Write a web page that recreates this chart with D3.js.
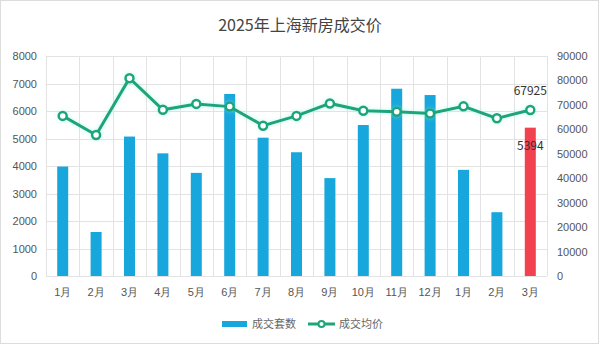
<!DOCTYPE html>
<html><head><meta charset="utf-8">
<script src="https://cdn.jsdelivr.net/npm/d3@7"></script>
<style>
html,body{margin:0;padding:0;background:#fff;}
svg{display:block;font-family:"Noto Sans CJK SC","Microsoft YaHei",sans-serif;}
</style></head>
<body><svg id="c" width="600" height="345"></svg>
<script>
const months = ["1月","2月","3月","4月","5月","6月","7月","8月","9月","10月","11月","12月","1月","2月","3月"];
const units = [3980,1600,5070,4460,3750,6620,5030,4500,3560,5490,6810,6580,3860,2320,5394];
const prices = [65500,57700,80900,68000,70400,69300,61500,65500,70600,67600,67200,66500,69400,64500,67925];
const leftTicks = [0,1000,2000,3000,4000,5000,6000,7000,8000];
const rightTicks = [0,10000,20000,30000,40000,50000,60000,70000,80000,90000];
const title = "2025年上海新房成交价";
const legendNames = ["成交套数","成交均价"];

const svg = d3.select("#c");
const W=600,H=345;
const m={l:46,r:53,t:56,b:69};
const x = d3.scaleBand().domain(d3.range(months.length)).range([m.l,W-m.r]);
const yL = d3.scaleLinear().domain([0,8000]).range([H-m.b,m.t]);
const yR = d3.scaleLinear().domain([0,90000]).range([H-m.b,m.t]);

// border
svg.append("rect").attr("x",0.5).attr("y",0.5).attr("width",W-2).attr("height",H-2)
  .attr("fill","none").attr("stroke","#dcdcdc");

const defs = svg.append("defs");
const f = defs.append("filter").attr("id","glow").attr("x","-10%").attr("y","-20%").attr("width","120%").attr("height","140%");
f.append("feGaussianBlur").attr("in","SourceGraphic").attr("stdDeviation",2).attr("result","b");
f.append("feColorMatrix").attr("in","b").attr("type","matrix")
  .attr("values","0 0 0 0 0.2  0 0 0 0 0.9  0 0 0 0 0.7  0 0 0 0.5 0").attr("result","g");
const fm=f.append("feMerge"); fm.append("feMergeNode").attr("in","g"); fm.append("feMergeNode").attr("in","SourceGraphic");

// grid
const g = svg.append("g");
g.selectAll("line.h").data(leftTicks).join("line")
  .attr("x1",m.l).attr("x2",W-m.r).attr("y1",d=>Math.round(yL(d))+0.5).attr("y2",d=>Math.round(yL(d))+0.5)
  .attr("stroke","#e3e3e3");
const vb = d3.range(months.length+1).map(i=> i<months.length ? x(i) : x(months.length-1)+x.bandwidth());
g.selectAll("line.v").data(vb).join("line")
  .attr("x1",d=>Math.round(d)+0.5).attr("x2",d=>Math.round(d)+0.5).attr("y1",m.t).attr("y2",H-m.b)
  .attr("stroke","#e3e3e3");

// axes labels
const axL = svg.append("g").attr("transform",`translate(${m.l-9},0)`)
  .call(d3.axisLeft(yL).tickValues(leftTicks).tickSize(0).tickPadding(0).tickFormat(d3.format("d")));
const axR = svg.append("g").attr("transform",`translate(${W-m.r+10},0)`)
  .call(d3.axisRight(yR).tickValues(rightTicks).tickSize(0).tickPadding(0).tickFormat(d3.format("d")));
const axB = svg.append("g").attr("transform",`translate(0,${H-m.b+10})`)
  .call(d3.axisBottom(x).tickSize(0).tickPadding(0).tickFormat(i=>months[i]));
[axL,axR,axB].forEach(a=>{a.select(".domain").remove();a.selectAll("text").attr("fill","#555").style("font-size","11px");});
axB.selectAll("text").attr("dy","0.9em");

// bars
const bw = 11;
svg.append("g").selectAll("rect").data(units).join("rect")
  .attr("x",(d,i)=>x(i)+x.bandwidth()/2-bw/2).attr("width",bw)
  .attr("y",d=>yL(d)).attr("height",d=>yL(0)-yL(d))
  .attr("fill",(d,i)=> i===units.length-1 ? "#f2414f" : "#17a7dc");

// line
const lc="#1fa57a";
const line = d3.line().x((d,i)=>x(i)+x.bandwidth()/2).y(d=>yR(d));
const lg = svg.append("g").attr("filter","url(#glow)");
lg.append("path").datum(prices).attr("d",line).attr("fill","none").attr("stroke",lc).attr("stroke-width",3);
lg.selectAll("circle").data(prices).join("circle")
  .attr("cx",(d,i)=>x(i)+x.bandwidth()/2).attr("cy",d=>yR(d)).attr("r",4)
  .attr("fill","#fff").attr("stroke",lc).attr("stroke-width",2.5);

// value labels
const li = prices.length-1;
svg.append("text").attr("x",x(li)+x.bandwidth()/2).attr("y",yR(prices[li])-15)
  .attr("text-anchor","middle").attr("fill","#333").style("font-size","12px").text(prices[li]);
svg.append("text").attr("x",x(li)+x.bandwidth()/2).attr("y",yL(units[li])+22)
  .attr("text-anchor","middle").attr("fill","#333").style("font-size","12px").text(units[li]);

// title
svg.append("text").attr("x",W/2).attr("y",31).attr("text-anchor","middle")
  .attr("fill","#444").style("font-size","16px").text(title);

// legend
const ly=324;
svg.append("rect").attr("x",222).attr("y",ly-3).attr("width",25).attr("height",6).attr("fill","#17a7dc");
svg.append("text").attr("x",252).attr("y",ly+4).attr("fill","#666").style("font-size","11px").text(legendNames[0]);
svg.append("line").attr("x1",308).attr("x2",335).attr("y1",ly).attr("y2",ly).attr("stroke",lc).attr("stroke-width",3);
svg.append("circle").attr("cx",321.5).attr("cy",ly).attr("r",3).attr("fill","#fff").attr("stroke",lc).attr("stroke-width",2);
svg.append("text").attr("x",339).attr("y",ly+4).attr("fill","#666").style("font-size","11px").text(legendNames[1]);
</script></body></html>
